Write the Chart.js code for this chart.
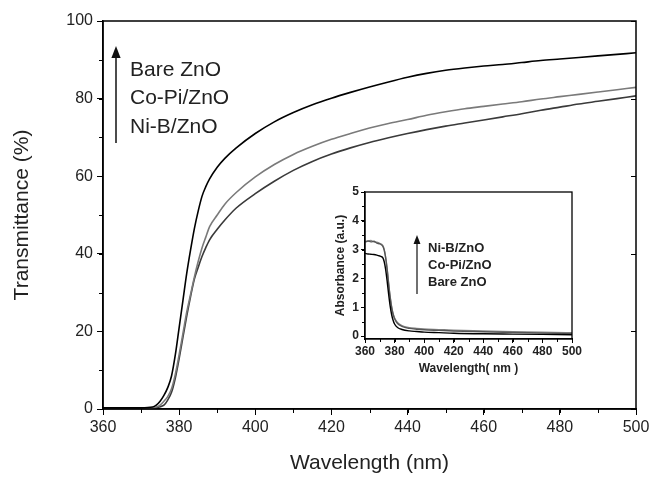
<!DOCTYPE html>
<html>
<head>
<meta charset="utf-8">
<script src="https://cdn.jsdelivr.net/npm/chart.js@4.4.1/dist/chart.umd.min.js"></script>
<style>
  html, body { margin: 0; padding: 0; background: #fff; }
  #wrap { position: relative; width: 649px; height: 477px; }
  #main { position: absolute; left: 0; top: 0; }
  #inset { position: absolute; left: 315px; top: 180px; }
</style>
</head>
<body>
<div id="wrap">
  <canvas id="main" width="649" height="477"></canvas>
  <canvas id="inset" width="270" height="200"></canvas>
</div>
<script>
// main plot: transmittance
var wl_T = [360, 370, 373, 374, 375, 376, 377, 378, 379, 380, 381, 382, 383, 384, 385, 386, 387, 388, 390, 392, 395,
            400, 405, 410, 415, 420, 425, 430, 435, 440, 445, 450, 455, 460, 465, 470, 475, 480, 485, 490, 495, 500];
var T_bare = [0.3, 0.3, 0.5, 1.0, 2.0, 3.5, 5.5, 8.5, 14, 21, 28, 35, 41, 46.5, 51, 54.8, 57.3, 59.3, 62.3, 64.6, 67.3,
              71, 74, 76.4, 78.4, 80.1, 81.6, 83, 84.3, 85.5, 86.5, 87.3, 87.9, 88.4, 88.8, 89.3, 89.8, 90.2, 90.6, 91, 91.4, 91.8];
var T_copi = [0.3, 0.3, 0.3, 0.5, 1.0, 2.0, 3.2, 5.2, 9, 14, 19.5, 25, 29.5, 34, 38, 41.5, 44.3, 47, 50, 52.8, 55.8,
              59.8, 63, 65.6, 67.7, 69.5, 71, 72.4, 73.6, 74.6, 75.7, 76.6, 77.4, 78, 78.6, 79.2, 79.9, 80.5, 81.1, 81.7, 82.3, 82.9];
var T_nib = [0.3, 0.3, 0.3, 0.3, 0.6, 1.0, 2.3, 4.3, 8, 13, 18.5, 24, 29, 33.5, 36.5, 39.3, 41.6, 43.6, 46.3, 48.7, 51.8,
             55.5, 58.7, 61.5, 63.8, 65.7, 67.3, 68.7, 69.9, 71, 72, 72.9, 73.7, 74.5, 75.3, 76.1, 77, 77.8, 78.6, 79.3, 80, 80.7];

// inset: absorbance
var wl_A = [360, 362, 364, 366, 368, 370, 371, 372, 373, 374, 375, 376, 377, 378, 379, 380, 382, 385, 390, 395,
            400, 410, 420, 440, 460, 480, 500];
var A_bare = [2.87, 2.85, 2.84, 2.83, 2.81, 2.78, 2.76, 2.72, 2.58, 2.3, 1.9, 1.45, 1.05, 0.75, 0.55, 0.42, 0.3, 0.23, 0.18, 0.16,
              0.14, 0.12, 0.1, 0.08, 0.07, 0.06, 0.05];
var A_copi = [3.28, 3.3, 3.27, 3.29, 3.23, 3.2, 3.17, 3.12, 2.98, 2.7, 2.3, 1.8, 1.35, 1.0, 0.76, 0.6, 0.44, 0.34, 0.27, 0.24,
              0.22, 0.2, 0.18, 0.15, 0.13, 0.11, 0.09];
var A_nib = [3.24, 3.3, 3.32, 3.27, 3.26, 3.22, 3.2, 3.15, 3.02, 2.75, 2.36, 1.86, 1.4, 1.05, 0.8, 0.64, 0.48, 0.37, 0.3, 0.27,
             0.25, 0.23, 0.21, 0.18, 0.16, 0.14, 0.12];

var names = ["Bare ZnO", "Co-Pi/ZnO", "Ni-B/ZnO"];
var colors = ["#000000", "#7a7a7a", "#3a3a3a"];
var mainTicks = [0, 20, 40, 60, 80, 100];
var insetTicks = [0, 1, 2, 3, 4, 5];

function pts(xs, ys) {
    return xs.map(function (x, i) { return { x: x, y: ys[i] }; });
}

// frame + minor ticks, drawn from the chart's scales
var frameTicks = {
    id: "frameTicks",
    afterDraw: function (c, args, o) {
        let ctx = c.ctx, a = c.chartArea, xs = c.scales.x, ys = c.scales.y;
        ctx.save();
        ctx.strokeStyle = "#000";
        ctx.lineWidth = o.lw;
        ctx.strokeRect(a.left, a.top, a.right - a.left, a.bottom - a.top);
        ctx.lineWidth = 1;
        ctx.beginPath();
        for (let v = xs.min; v <= xs.max; v += o.xMinor) {
            let p = Math.round(xs.getPixelForValue(v)) + 0.5;
            ctx.moveTo(p, a.bottom);
            ctx.lineTo(p, a.bottom + o.minorLen);
        }
        for (let v = o.yStart; v <= ys.max + 1e-6; v += o.yMinor) {
            let p = Math.round(ys.getPixelForValue(v)) + 0.5;
            ctx.moveTo(a.left, p);
            ctx.lineTo(a.left - o.minorLen, p);
        }
        ys.ticks.forEach(function (t) {
            let p = Math.round(ys.getPixelForValue(t.value)) + 0.5;
            ctx.moveTo(a.right, p);
            ctx.lineTo(a.right - o.rightLen, p);
        });
        ctx.stroke();
        ctx.restore();
    }
};

// arrow + sample labels
var notes = {
    id: "notes",
    afterDraw: function (c, args, o) {
        let ctx = c.ctx;
        ctx.save();
        ctx.strokeStyle = "#111";
        ctx.fillStyle = "#111";
        ctx.lineWidth = o.arrowW;
        ctx.beginPath();
        ctx.moveTo(o.ax, o.ay1);
        ctx.lineTo(o.ax, o.ay0 + o.head);
        ctx.stroke();
        ctx.beginPath();
        ctx.moveTo(o.ax, o.ay0);
        ctx.lineTo(o.ax - o.head / 2.6, o.ay0 + o.head);
        ctx.lineTo(o.ax + o.head / 2.6, o.ay0 + o.head);
        ctx.closePath();
        ctx.fill();
        ctx.fillStyle = "#222";
        ctx.font = o.font;
        ctx.textBaseline = "middle";
        o.labels.forEach(function (t, i) {
            ctx.fillText(t, o.tx, o.ty + i * o.dy);
        });
        ctx.restore();
    }
};

function fixSize(w) {
    return function (s) { s.width = w; };
}
function fixHeight(h) {
    return function (s) { s.height = h; s.paddingLeft = 0; s.paddingRight = 0; };
}
function setTicks(list) {
    return function (s) { s.ticks = list.map(function (v) { return { value: v }; }); };
}

var mainCfg = {
    type: "line",
    data: {
        datasets: [
            { label: names[0], data: pts(wl_T, T_bare), borderColor: colors[0], borderWidth: 1.6 },
            { label: names[1], data: pts(wl_T, T_copi), borderColor: colors[1], borderWidth: 1.6 },
            { label: names[2], data: pts(wl_T, T_nib), borderColor: colors[2], borderWidth: 1.6 }
        ]
    },
    options: {
        responsive: false,
        animation: false,
        layout: { padding: { left: 0, top: 21, right: 13, bottom: 0 } },
        elements: { point: { radius: 0 }, line: { cubicInterpolationMode: "monotone" } },
        plugins: {
            legend: { display: false },
            tooltip: { enabled: false },
            frameTicks: { lw: 1.5, xMinor: 10, yMinor: 10, yStart: 0, minorLen: 4, rightLen: 5 },
            notes: {
                ax: 116, ay0: 46, ay1: 143, head: 12, arrowW: 1.5,
                font: "21px 'Liberation Sans', Arial, sans-serif",
                tx: 130, ty: 70, dy: 28.5,
                labels: [names[0], names[1], names[2]]
            }
        },
        scales: {
            x: {
                type: "linear", min: 360, max: 500,
                afterFit: fixHeight(68),
                border: { display: true, color: "#000", width: 1.5 },
                grid: { drawOnChartArea: false, color: "#000", tickLength: 6 },
                ticks: { stepSize: 20, color: "#222", padding: 3, maxRotation: 0,
                         font: { family: "'Liberation Sans', Arial", size: 16 } },
                title: { display: true, text: "Wavelength (nm)", color: "#222",
                         font: { family: "'Liberation Sans', Arial", size: 21 }, padding: { top: 0, bottom: 1 } }
            },
            y: {
                type: "linear", min: 0, max: 100,
                afterFit: fixSize(103),
                afterBuildTicks: setTicks(mainTicks),
                border: { display: true, color: "#000", width: 1.5 },
                grid: { drawOnChartArea: false, color: "#000", tickLength: 6 },
                ticks: { color: "#222", padding: 4,
                         font: { family: "'Liberation Sans', Arial", size: 16 } },
                title: { display: true, text: "Transmittance (%)", color: "#222",
                         font: { family: "'Liberation Sans', Arial", size: 21 }, padding: { bottom: 0, top: 10 } }
            }
        }
    },
    plugins: [frameTicks, notes]
};

var boldFont = "'Liberation Sans', Arial";
var insetCfg = {
    type: "line",
    data: {
        datasets: [
            { label: names[0], data: pts(wl_A, A_bare), borderColor: "#000", borderWidth: 1.4 },
            { label: names[1], data: pts(wl_A, A_copi), borderColor: "#555", borderWidth: 1.4 },
            { label: names[2], data: pts(wl_A, A_nib), borderColor: "#8a8a8a", borderWidth: 1.2 }
        ]
    },
    options: {
        responsive: false,
        animation: false,
        layout: { padding: { left: 0, top: 12, right: 13, bottom: 0 } },
        elements: { point: { radius: 0 }, line: { cubicInterpolationMode: "monotone" } },
        plugins: {
            legend: { display: false },
            tooltip: { enabled: false },
            frameTicks: { lw: 1.3, xMinor: 10, yMinor: 0.5, yStart: 0, minorLen: 3, rightLen: 0 },
            notes: {
                ax: 102, ay0: 55, ay1: 114, head: 9, arrowW: 1.2,
                font: "bold 13px 'Liberation Sans', Arial, sans-serif",
                tx: 113, ty: 68, dy: 17,
                labels: [names[2], names[1], names[0]]
            }
        },
        scales: {
            x: {
                type: "linear", min: 360, max: 500,
                afterFit: fixHeight(41),
                border: { display: true, color: "#000", width: 1.3 },
                grid: { drawOnChartArea: false, color: "#000", tickLength: 4 },
                ticks: { stepSize: 20, color: "#222", padding: 1, maxRotation: 0,
                         font: { family: boldFont, size: 12, weight: "bold" } },
                title: { display: true, text: "Wavelength( nm )", color: "#222",
                         font: { family: boldFont, size: 12, weight: "bold" }, padding: { top: 1 } }
            },
            y: {
                type: "linear", min: -0.1, max: 5,
                afterFit: fixSize(50),
                afterBuildTicks: setTicks(insetTicks),
                border: { display: true, color: "#000", width: 1.3 },
                grid: { drawOnChartArea: false, color: "#000", tickLength: 4 },
                ticks: { color: "#222", padding: 2,
                         font: { family: boldFont, size: 12, weight: "bold" } },
                title: { display: true, text: "Absorbance (a.u.)", color: "#222",
                         font: { family: boldFont, size: 12, weight: "bold" }, padding: { top: 18, bottom: 0 } }
            }
        }
    },
    plugins: [frameTicks, notes]
};

new Chart(document.getElementById("main"), mainCfg);
new Chart(document.getElementById("inset"), insetCfg);
</script>
</body>
</html>
